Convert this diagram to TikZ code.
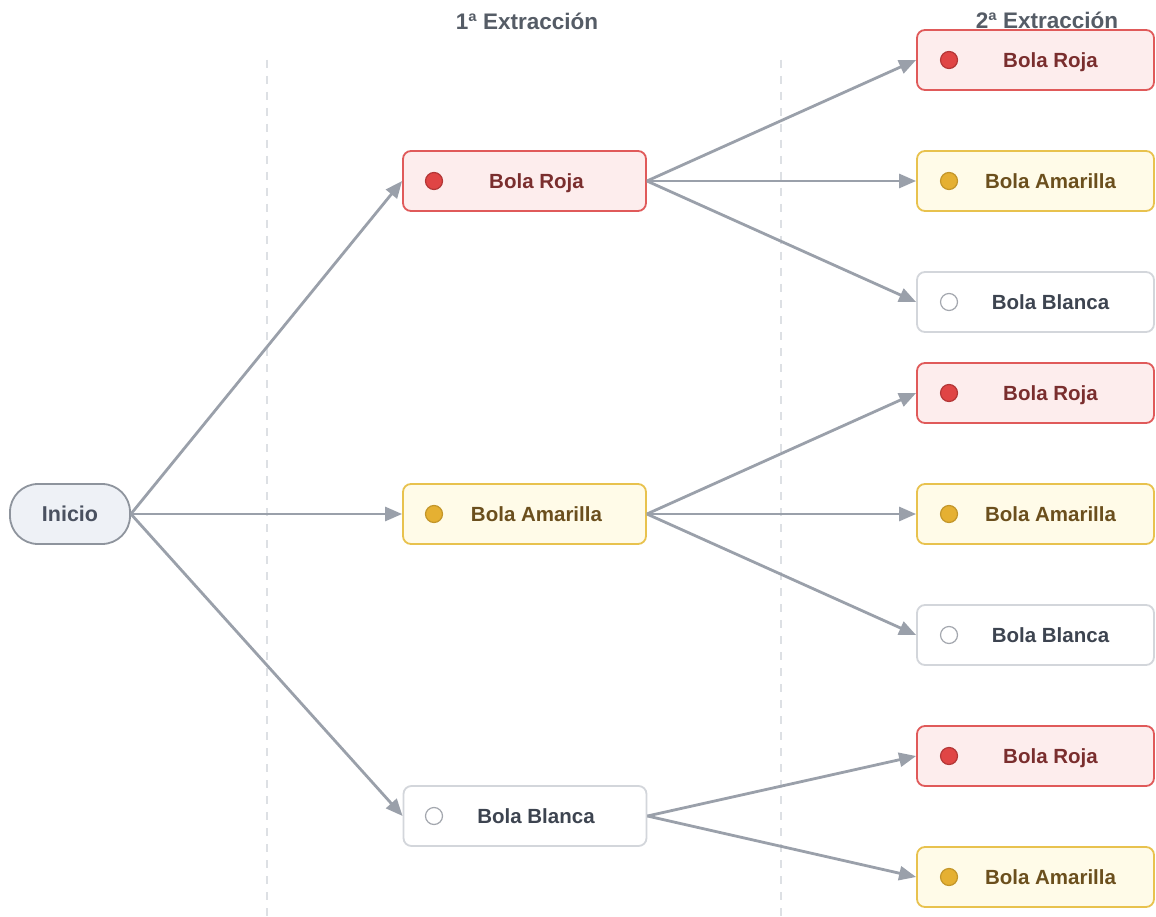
\documentclass[tikz,border=0pt]{standalone}
\usepackage{fontspec}
\setmainfont{Liberation Sans}
\usetikzlibrary{arrows.meta}
\definecolor{redB}{HTML}{E05A5A}
\definecolor{redF}{HTML}{FDEDED}
\definecolor{redD}{HTML}{E04545}
\definecolor{redT}{HTML}{7A2E2E}
\definecolor{yelB}{HTML}{E8C24E}
\definecolor{yelF}{HTML}{FFFBE8}
\definecolor{yelD}{HTML}{E5B032}
\definecolor{yelT}{HTML}{6B4F1D}
\definecolor{whiB}{HTML}{D3D6DB}
\definecolor{whiD}{HTML}{A3A7AE}
\definecolor{whiT}{HTML}{3D4450}
\definecolor{iniF}{HTML}{EEF1F6}
\definecolor{iniB}{HTML}{8E949D}
\definecolor{iniT}{HTML}{4A5160}
\definecolor{arr}{HTML}{9AA0AA}
\definecolor{sep}{HTML}{DDE0E4}
\definecolor{head}{HTML}{555C66}
\begin{document}
\begin{tikzpicture}[x=1pt,y=-1pt,
  box/.style={draw, rounded corners=8pt, line width=1.8pt, minimum height=60pt, inner sep=0pt},
  lone/.style={box, minimum width=243pt},
  ltwo/.style={box, minimum width=237pt},
  rbox/.style={draw=redB, fill=redF},
  ybox/.style={draw=yelB, fill=yelF},
  wbox/.style={draw=whiB, fill=white},
  dot/.style={circle, minimum size=17pt, inner sep=0pt, line width=1.2pt},
  rdot/.style={dot, fill=redD, draw=redD!80!black},
  ydot/.style={dot, fill=yelD, draw=yelD!85!black},
  wdot/.style={dot, fill=white, draw=whiD},
  lbl/.style={font=\fontsize{20.5}{24}\selectfont\bfseries, inner sep=0pt, text height=14.5pt, text depth=0pt},
  arrowline/.style={draw=arr, line width=2.8pt, -{Triangle[length=17pt,width=14pt]}},
  sepline/.style={draw=sep, line width=1.5pt, dash pattern=on 8pt off 8pt},
  hdr/.style={font=\fontsize{22.5}{26}\selectfont\bfseries, text=head, inner sep=0pt, text height=16pt, text depth=0pt}
]
\useasboundingbox (0,0) rectangle (1156,917);
\fill[white] (0,0) rectangle (1156,917);

% separators
\coordinate (s1a) at (267,60); \coordinate (s1b) at (267,917);
\coordinate (s2a) at (781,60); \coordinate (s2b) at (781,917);
\draw[sepline] (s1a) -- (s1b);
\draw[sepline] (s2a) -- (s2b);

% headers
\node[hdr] (h1) at (527,22) {1ª Extracción};
\node[hdr] (h2) at (1047,21) {2ª Extracción};

% start
\node[draw=iniB, fill=iniF, line width=1.8pt, rounded corners=28pt, minimum width=120pt, minimum height=60pt, inner sep=0pt,
  text=iniT, font=\fontsize{21.5}{24}\selectfont\bfseries, text height=15pt, text depth=0pt] (ini) at (70,514) {Inicio};

% level 1
\node[lone, rbox] (a1) at (524.5,181) {};
\node[rdot] (a1d) at ([xshift=-90.5pt]a1.center) {};
\node[lbl, text=redT] (a1t) at ([xshift=12pt]a1.center) {Bola Roja};

\node[lone, ybox] (a2) at (524.5,514) {};
\node[ydot] (a2d) at ([xshift=-90.5pt]a2.center) {};
\node[lbl, text=yelT] (a2t) at ([xshift=12pt]a2.center) {Bola Amarilla};

\node[lone, wbox] (a3) at (525,816) {};
\node[wdot] (a3d) at ([xshift=-91pt]a3.center) {};
\node[lbl, text=whiT] (a3t) at ([xshift=11pt]a3.center) {Bola Blanca};

% level 2
\newcommand{\ltwonode}[5]{%
  \node[ltwo, #2box] (#1) at (1035.5,#3) {};
  \node[#2dot] (#1d) at ([xshift=-86.5pt]#1.center) {};
  \node[lbl, text=#4] (#1t) at ([xshift=15pt]#1.center) {#5};
}
\ltwonode{b1}{r}{60}{redT}{Bola Roja}
\ltwonode{b2}{y}{181}{yelT}{Bola Amarilla}
\ltwonode{b3}{w}{302}{whiT}{Bola Blanca}
\ltwonode{b4}{r}{393}{redT}{Bola Roja}
\ltwonode{b5}{y}{514}{yelT}{Bola Amarilla}
\ltwonode{b6}{w}{635}{whiT}{Bola Blanca}
\ltwonode{b7}{r}{756}{redT}{Bola Roja}
\ltwonode{b8}{y}{877}{yelT}{Bola Amarilla}

% connectors
\draw[arrowline] (ini.east) -- (a1.west);
\draw[arrowline] (ini.east) -- (a2.west);
\draw[arrowline] (ini.east) -- (a3.west);
\draw[arrowline] (a1.east) -- (b1.west);
\draw[arrowline] (a1.east) -- (b2.west);
\draw[arrowline] (a1.east) -- (b3.west);
\draw[arrowline] (a2.east) -- (b4.west);
\draw[arrowline] (a2.east) -- (b5.west);
\draw[arrowline] (a2.east) -- (b6.west);
\draw[arrowline] (a3.east) -- (b7.west);
\draw[arrowline] (a3.east) -- (b8.west);
\end{tikzpicture}
\end{document}
